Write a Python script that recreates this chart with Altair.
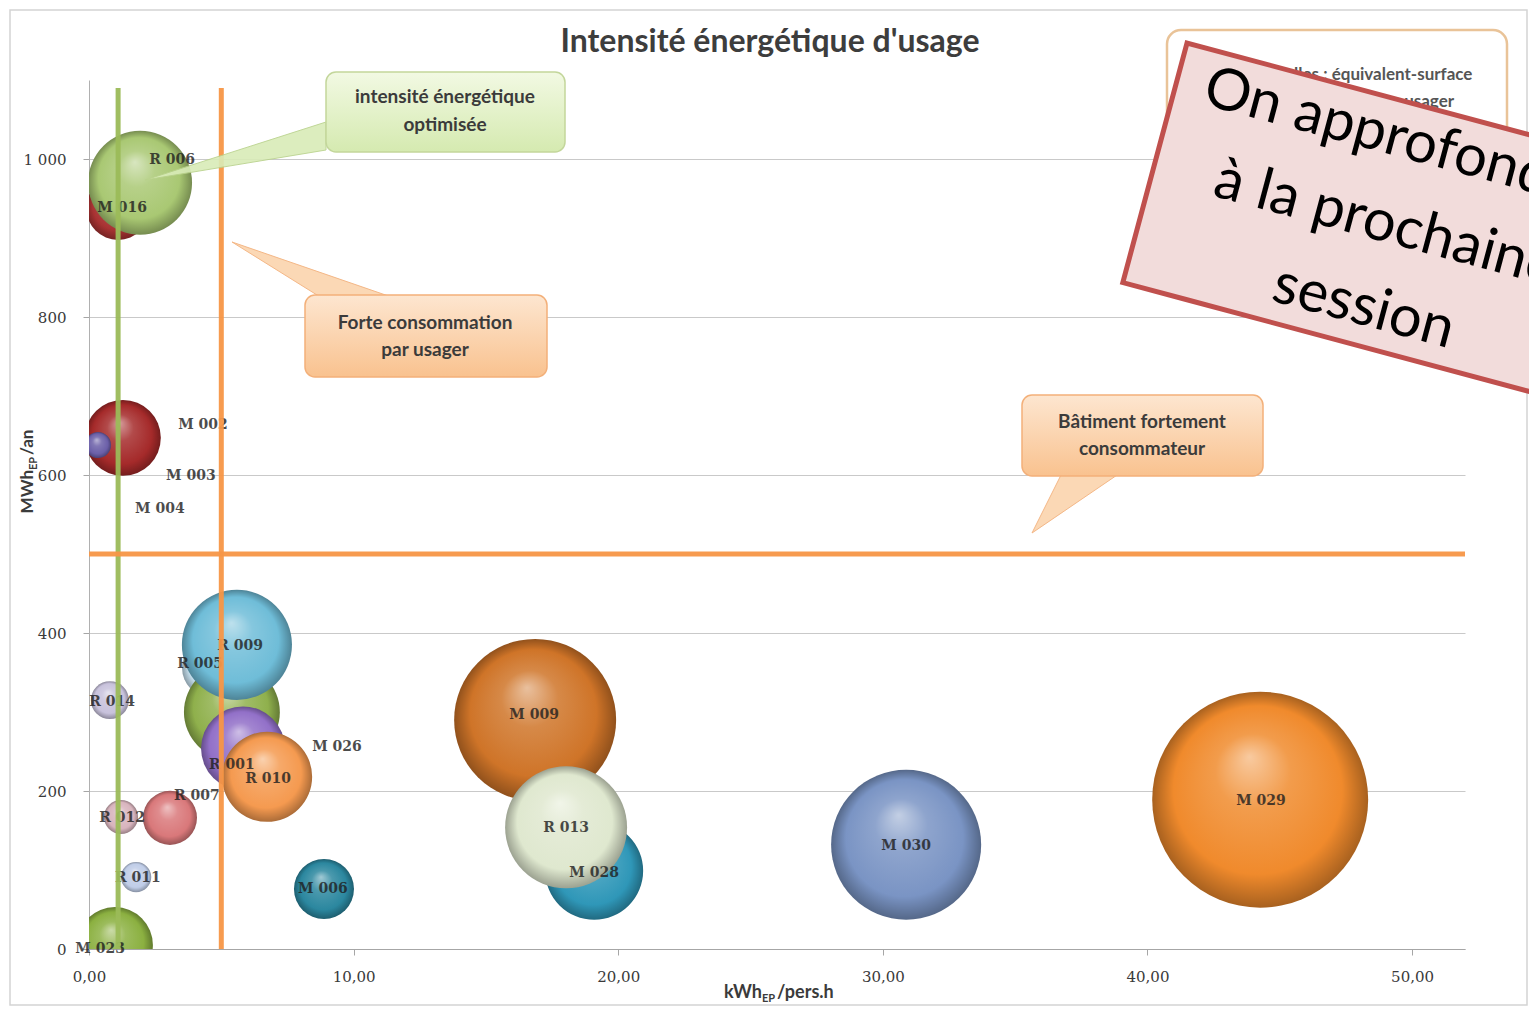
import math
import altair as alt
import pandas as pd

# ---------------- data ----------------
names = ["M 016", "R 006", "M 002", "M 003", "M 004", "R 014", "R 005", "R 001",
         "M 026", "R 010", "R 009", "R 007", "R 012", "R 011", "M 023", "M 006",
         "M 009", "M 028", "R 013", "M 030", "M 029"]
x_vals = [1.10, 1.93, 1.28, 0.34, 1.10, 0.79, 4.65, 5.40,
          5.82, 6.73, 5.59, 3.06, 1.21, 1.78, 0.98, 8.88,
          16.86, 19.09, 18.03, 30.88, 44.26]
y_vals = [938, 970, 647, 638, 600, 315, 356, 300,
          254, 218, 385, 166, 167, 91, 5, 76,
          290, 99, 154, 132, 189]
sizes = [10.2, 27.0, 14.4, 1.7, 0.0, 3.6, 9.0, 23.0,
         17.6, 20.3, 30.3, 7.3, 2.9, 2.3, 14.4, 9.0,
         65.6, 24.0, 37.2, 56.3, 116.6]
colors = ["#a83232", "#a9c873", "#a52a2a", "#6b5fa8", "#6b5fa8", "#c8c2dc", "#c2dcea", "#8fb04c",
          "#9270c8", "#f59a50", "#6fbdd8", "#d9787a", "#d8b4bd", "#c0cde8", "#8bb040", "#2b879f",
          "#cf7428", "#2f97b8", "#dfe8cf", "#7a94c4", "#f08a2c"]
label_x = [1.25, 3.14, 4.31, 3.85, 2.68, 0.87, 4.20, 5.40,
           9.37, 6.77, 5.71, 4.08, 1.25, 1.85, 0.42, 8.84,
           16.82, 19.09, 18.03, 30.88, 44.29]
label_y = [938, 999, 663, 599, 557, 313, 361, 233,
           256, 215, 384, 194, 166, 90, 0, 76,
           296, 96, 153, 130, 187]

vline_x = [1.1, 5.0]
vline_colors = ["#9bbb59", "#f79646"]
vline_top = [1090, 1090]
hline_y = [500]

x_ticks = [0, 10, 20, 30, 40, 50]
y_ticks = [0, 200, 400, 600, 800, 1000]

# ---------------- geometry / style ----------------
W, H = 1376, 869
X_MAX, Y_MAX = 52, 1100
PX = W / X_MAX
PY = H / Y_MAX
OX, OY = 89, 80  # page position of plot origin


def px2x(px):
    return (px - OX) / PX


def py2y(py):
    return (OY + H - py) / PY


def mix(c1, c2, t):
    a = [int(c1[i:i + 2], 16) for i in (1, 3, 5)]
    b = [int(c2[i:i + 2], 16) for i in (1, 3, 5)]
    m = [round(a[k] + (b[k] - a[k]) * t) for k in range(3)]
    return "#%02x%02x%02x" % tuple(m)


def ball(c):
    return alt.RadialGradient(
        gradient="radial", x1=0.45, y1=0.3, r1=0, x2=0.5, y2=0.5, r2=0.5,
        stops=[alt.GradientStop(offset=0, color=mix(c, "#ffffff", 0.55)),
               alt.GradientStop(offset=0.35, color=mix(c, "#ffffff", 0.15)),
               alt.GradientStop(offset=0.78, color=c),
               alt.GradientStop(offset=1, color=mix(c, "#000000", 0.3))])


def vgrad(top, bottom):
    return alt.LinearGradient(gradient="linear", x1=0, y1=0, x2=0, y2=1,
                              stops=[alt.GradientStop(offset=0, color=top),
                                     alt.GradientStop(offset=1, color=bottom)])


def poly_df(verts):
    """convex polygon (page px) -> table of x, top, bottom in data units"""
    xs_ = sorted(set(v[0] for v in verts))
    rows = []
    n = len(verts)
    for x in xs_:
        ys_ = []
        for i in range(n):
            (x1, y1), (x2, y2) = verts[i], verts[(i + 1) % n]
            lo, hi = min(x1, x2), max(x1, x2)
            if lo - 1e-9 <= x <= hi + 1e-9:
                if abs(x2 - x1) < 1e-9:
                    ys_ += [y1, y2]
                else:
                    ys_.append(y1 + (y2 - y1) * (x - x1) / (x2 - x1))
        rows.append({"x": px2x(x), "t": py2y(min(ys_)), "b": py2y(max(ys_))})
    return pd.DataFrame(rows)


xs = alt.Scale(domain=[0, X_MAX], nice=False, zero=True)
ys = alt.Scale(domain=[0, Y_MAX], nice=False, zero=True)
# Vega circle: size = (diameter)^2 ; radius = 10*sqrt(s)
ss = alt.Scale(domain=[0, 120], range=[0, 400 * 120], zero=True)

x_axis = alt.Axis(values=x_ticks, title=None, grid=False, labelFlush=False,
                  labelExpr="replace(format(datum.value, '.2f'), '.', ',')",
                  domainColor="#a6a6a6", tickColor="#a6a6a6", tickSize=6,
                  labelFont="DejaVu Serif", labelFontSize=15, labelColor="#3a3a3a",
                  labelPadding=14)
y_axis = alt.Axis(values=y_ticks, title=None, grid=True, gridColor="#c9c9c9", labelFlush=False,
                  labelExpr="replace(format(datum.value, ','), ',', ' ')",
                  domainColor="#b0b0b0", tickColor="#a6a6a6", tickSize=6,
                  labelFont="DejaVu Serif", labelFontSize=15, labelColor="#3a3a3a",
                  labelPadding=17)


def X(f):
    return alt.X(f, type="quantitative", scale=xs, axis=x_axis)


def Y(f):
    return alt.Y(f, type="quantitative", scale=ys, axis=y_axis)


def Y2(f):
    return alt.Y2(f)


df = pd.DataFrame(dict(name=names, x=x_vals, y=y_vals, s=sizes, lx=label_x, ly=label_y))
one = pd.DataFrame({"k": [0]})

layers = []

# outer chart border
layers.append(alt.Chart(one).mark_rect(fillOpacity=0, stroke="#d4d4d4", strokeWidth=1.5).encode(
    x=alt.value(-79), x2=alt.value(W + 62), y=alt.value(-70), y2=alt.value(H + 56)))

# base layer carrying axes
layers.append(alt.Chart(df).mark_point(opacity=0).encode(x=X("x"), y=Y("y")))

# bubbles, back to front (clipped to the plot area)
for i, n in enumerate(names):
    if sizes[i] <= 0:
        continue
    layers.append(
        alt.Chart(df).transform_filter(alt.datum.name == n)
        .mark_circle(fill=ball(colors[i]), opacity=1, strokeWidth=0, clip=True)
        .encode(x=X("x"), y=Y("y"),
                size=alt.Size("s:Q", scale=ss, legend=None))
    )

# bubble labels
layers.append(alt.Chart(df).mark_text(font="DejaVu Serif", fontSize=14, color="#1f1f1f",
                                      fontWeight="bold", opacity=0.8).encode(
    x=X("lx"), y=Y("ly"), text="name:N"))

# threshold lines
vdf = pd.DataFrame({"x": vline_x, "y0": [0, 0], "y1": vline_top, "c": vline_colors})
layers.append(alt.Chart(vdf).mark_rule(strokeWidth=5, opacity=0.95).encode(
    x=X("x"), y=Y("y0"), y2=Y2("y1"), color=alt.Color("c:N", scale=None)))
hdf = pd.DataFrame({"y": hline_y, "x0": [0], "x1": [X_MAX]})
layers.append(alt.Chart(hdf).mark_rule(strokeWidth=5, color="#f79646", opacity=0.95).encode(
    y=Y("y"), x=X("x0"), x2=alt.X2("x1")))


def tail(verts, fill, stroke):
    return alt.Chart(poly_df(verts)).mark_area(fill=fill, stroke=stroke, strokeWidth=1,
                                               opacity=0.9).encode(
        x=X("x"), y=Y("t"), y2=Y2("b"))


def box(x0, y0, x1, y1, fill, stroke, sw=1.5, r=10):
    return alt.Chart(one).mark_rect(fill=fill, stroke=stroke, strokeWidth=sw, cornerRadius=r).encode(
        x=alt.value(x0 - OX), x2=alt.value(x1 - OX), y=alt.value(y0 - OY), y2=alt.value(y1 - OY))


def label(px, py, txt, size=19, weight="bold", color="#3b3b3b", font="Lato", lh=27, angle=0):
    """px, py: page position of the centre of the text block"""
    nlines = txt.count("\n") + 1
    shift = (nlines - 1) * lh / 2.0
    a = math.radians(angle)
    fx = px + shift * math.sin(a)
    fy = py - shift * math.cos(a)
    kw = {"angle": angle} if angle else {}
    return alt.Chart(one).mark_text(font=font, fontSize=size, fontWeight=weight, color=color,
                                    lineBreak="\n", lineHeight=lh, align="center",
                                    baseline="middle", **kw).encode(
        x=alt.value(fx - OX), y=alt.value(fy - OY), text=alt.value(txt))


orange_fill = vgrad("#fde6d0", "#f9c28f")
green_fill = vgrad("#f2f9e3", "#d5eab0")

# green callout
layers.append(tail([(145, 180), (326, 122), (326, 150)], "#d9ecb8", "#b9d28c"))
layers.append(box(326, 72, 565, 152, green_fill, "#c3d69b"))
layers.append(label(445, 111, "intensité énergétique\noptimisée", lh=28))

# orange callout 1
layers.append(tail([(232, 242), (325, 300), (400, 300)], "#fbd4ae", "#f3b07a"))
layers.append(box(305, 295, 547, 377, orange_fill, "#f3b07a"))
layers.append(label(425, 336, "Forte consommation\npar usager"))

# orange callout 2
layers.append(tail([(1032, 533), (1063, 471), (1123, 471)], "#fbd4ae", "#f3b07a"))
layers.append(box(1022, 395, 1263, 476, orange_fill, "#f3b07a"))
layers.append(label(1142, 435, "Bâtiment fortement\nconsommateur"))

# legend-like box (top right)
layers.append(box(1167, 30, 1507, 160, "#ffffff", "#e9c398", sw=2.5, r=14))
layers.append(label(1337, 88, "Taille des bulles : équivalent-surface\nde la consommation par usager",
                    size=17, color="#555555"))

# rotated sticky note
ang = math.radians(15)
TL = (1187, 43)
NW, NH = 478, 248
TR = (TL[0] + NW * math.cos(ang), TL[1] + NW * math.sin(ang))
BL = (TL[0] - NH * math.sin(ang), TL[1] + NH * math.cos(ang))
BR = (BL[0] + NW * math.cos(ang), BL[1] + NW * math.sin(ang))
layers.append(alt.Chart(poly_df([TL, TR, BR, BL])).mark_area(
    fill="#f2dcdb", stroke="#c0504d", strokeWidth=5, opacity=1).encode(
    x=X("x"), y=Y("t"), y2=Y2("b")))
cx = (TL[0] + BL[0]) / 2 + NW / 2 * math.cos(ang)
cy = (TL[1] + BL[1]) / 2 + NW / 2 * math.sin(ang)
layers.append(label(cx, cy, "On approfondira\nà la prochaine\nsession", size=58, weight="normal",
                    color="#000000", lh=86, angle=15))

# title
layers.append(label(770, 42, "Intensité énergétique d'usage", size=32, color="#3d3d3d"))

# axis titles (with small subscript)
xt_y = 998 - OY
xa = 762 - OX
layers.append(alt.Chart(one).mark_text(font="Lato", fontSize=18, fontWeight="bold", color="#3b3b3b",
                                       align="right", baseline="alphabetic").encode(
    x=alt.value(xa), y=alt.value(xt_y), text=alt.value("kWh")))
layers.append(alt.Chart(one).mark_text(font="Lato", fontSize=11, fontWeight="bold", color="#3b3b3b",
                                       align="left", baseline="alphabetic", dy=4).encode(
    x=alt.value(xa), y=alt.value(xt_y), text=alt.value("EP")))
layers.append(alt.Chart(one).mark_text(font="Lato", fontSize=18, fontWeight="bold", color="#3b3b3b",
                                       align="left", baseline="alphabetic", dx=15).encode(
    x=alt.value(xa), y=alt.value(xt_y), text=alt.value("/pers.h")))

yt_x = 28 - OX
ya = 470 - OY
layers.append(alt.Chart(one).mark_text(font="Lato", fontSize=17, fontWeight="bold", color="#3b3b3b",
                                       align="right", baseline="middle", angle=270).encode(
    x=alt.value(yt_x), y=alt.value(ya), text=alt.value("MWh")))
layers.append(alt.Chart(one).mark_text(font="Lato", fontSize=11, fontWeight="bold", color="#3b3b3b",
                                       align="left", baseline="middle", angle=270, dy=6).encode(
    x=alt.value(yt_x), y=alt.value(ya), text=alt.value("EP")))
layers.append(alt.Chart(one).mark_text(font="Lato", fontSize=17, fontWeight="bold", color="#3b3b3b",
                                       align="left", baseline="middle", angle=270, dx=15).encode(
    x=alt.value(yt_x), y=alt.value(ya), text=alt.value("/an")))

chart = alt.layer(*layers).properties(
    width=W, height=H,
    padding={"left": OX - 8, "top": OY - 8, "right": 1521 - (OX - 8) - W, "bottom": 999 - (OY - 8) - H},
    autosize=alt.AutoSizeParams(type="none"),
    background="white",
).configure_view(strokeWidth=0)

chart.save("out.html", embed_options={"renderer": "svg", "actions": False})
